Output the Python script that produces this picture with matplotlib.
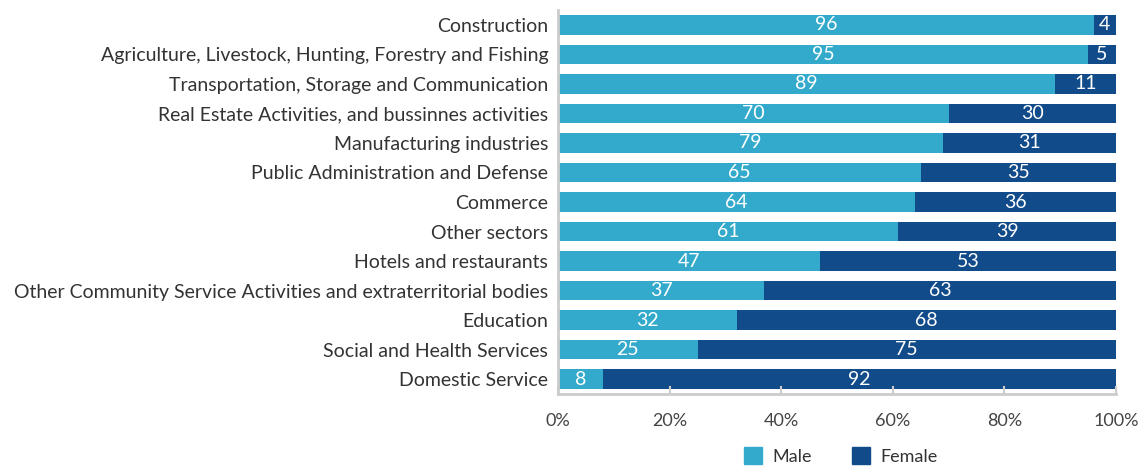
import matplotlib
matplotlib.use("Agg")
import matplotlib.pyplot as plt
import numpy as np
from matplotlib.patches import Patch

categories = [
    "Construction",
    "Agriculture, Livestock, Hunting, Forestry and Fishing",
    "Transportation, Storage and Communication",
    "Real Estate Activities, and bussinnes activities",
    "Manufacturing industries",
    "Public Administration and Defense",
    "Commerce",
    "Other sectors",
    "Hotels and restaurants",
    "Other Community Service Activities and extraterritorial bodies",
    "Education",
    "Social and Health Services",
    "Domestic Service",
]
male = [96, 95, 89, 70, 69, 65, 64, 61, 47, 37, 32, 25, 8]
female = [4, 5, 11, 30, 31, 35, 36, 39, 53, 63, 68, 75, 92]
male_labels = ["96", "95", "89", "70", "79", "65", "64", "61", "47", "37", "32", "25", "8"]
female_labels = ["4", "5", "11", "30", "31", "35", "36", "39", "53", "63", "68", "75", "92"]
x_ticks = [0, 20, 40, 60, 80, 100]
x_tick_labels = ["0%", "20%", "40%", "60%", "80%", "100%"]

MALE_C = "#33AACB"
FEMALE_C = "#124B8A"
plt.rcParams['font.family'] = ['Lato', 'DejaVu Sans']

fig = plt.figure(figsize=(11.38, 4.68), dpi=100)
ax = fig.add_axes([558/1138, 1-394/468, (1116-558)/1138, (394-10)/468])

y = np.arange(len(categories))
m = np.array(male, dtype=float)
f = np.array(female, dtype=float)
tot = m + f
mp = m / tot * 100
fp = f / tot * 100
h = 0.66
ax.barh(y, mp, height=h, color=MALE_C, label="Male")
ax.barh(y, fp, left=mp, height=h, color=FEMALE_C, label="Female")

for i in range(len(categories)):
    ax.text(mp[i] / 2, y[i], male_labels[i], ha="center", va="center",
            color="white", fontsize=14)
    ax.text(mp[i] + fp[i] / 2, y[i], female_labels[i], ha="center", va="center",
            color="white", fontsize=14)

ax.set_xlim(0, 100)
ax.set_ylim(len(categories) - 0.5, -0.5)
ax.set_yticks(y)
ax.set_yticklabels(categories, fontsize=14, color="#333333")
ax.set_xticks(x_ticks)
ax.set_xticklabels(x_tick_labels, fontsize=13, color="#444444")
ax.tick_params(axis="y", length=0, pad=7)
ax.tick_params(axis="x", direction="in", length=6, width=1.5, color="#CCCCCC", pad=14)
for s in ["top", "right"]:
    ax.spines[s].set_visible(False)
for s in ["left", "bottom"]:
    ax.spines[s].set_color("#CCCCCC")
    ax.spines[s].set_linewidth(2)

handles = [Patch(color=MALE_C, label="Male"), Patch(color=FEMALE_C, label="Female")]
fig.legend(handles=handles, loc="center", bbox_to_anchor=(841/1138, 1-456/468),
           ncol=2, frameon=False, fontsize=13, handlelength=1.0, handleheight=1.0,
           columnspacing=2.2, handletextpad=0.6, labelcolor="#333333")

fig.savefig("out.png", dpi=100)
